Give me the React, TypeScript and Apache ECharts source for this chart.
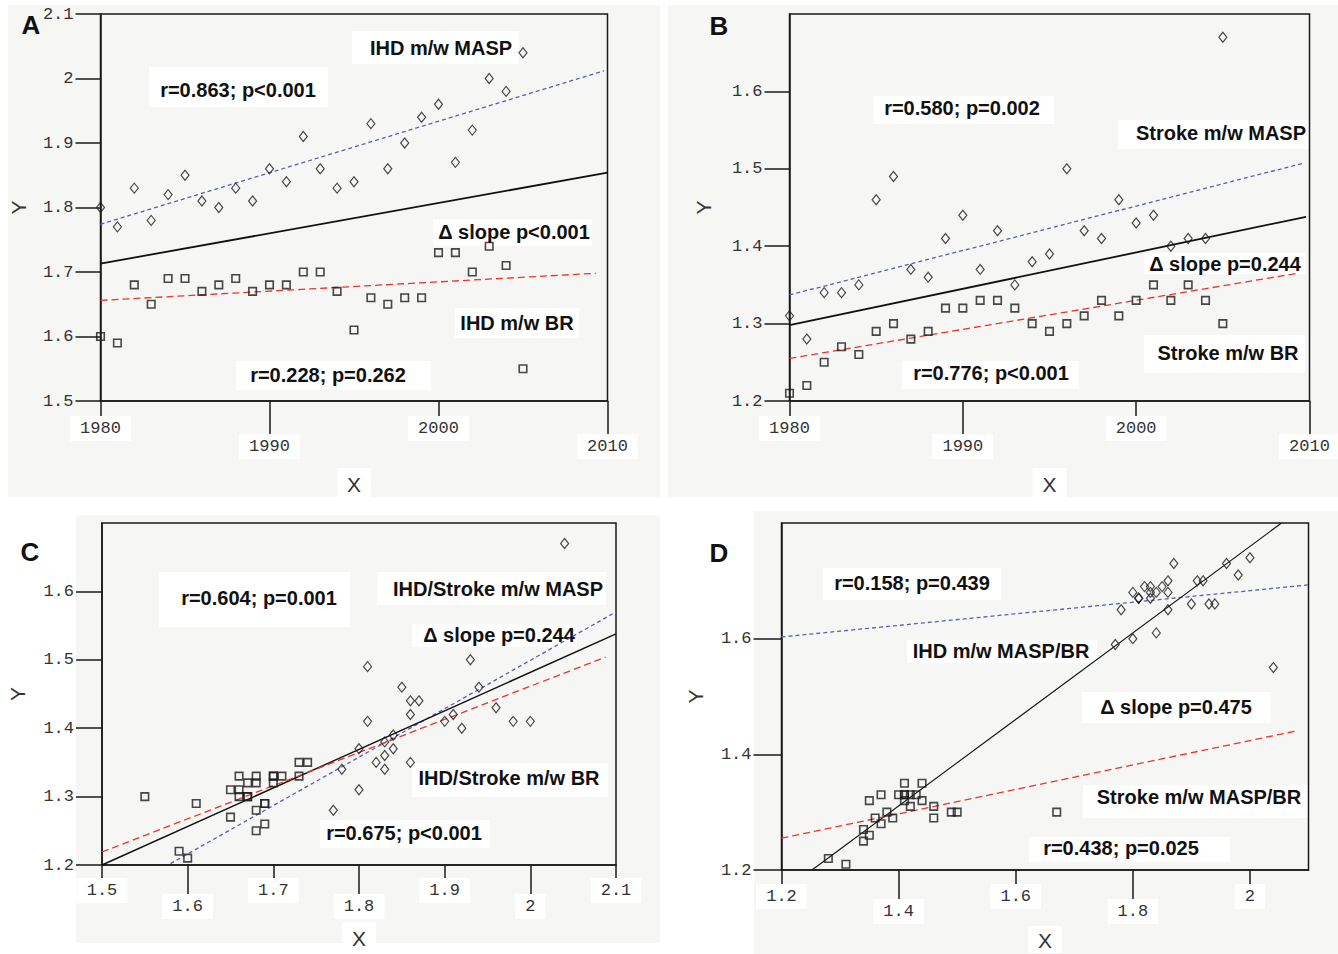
import { useEffect, useRef } from "react";
import * as echarts from "echarts";

// ---------------- DATA ----------------
const years = [1980, 1981, 1982, 1983, 1984, 1985, 1986, 1987, 1988, 1989, 1990, 1991, 1992, 1993, 1994, 1995, 1996, 1997, 1998, 1999, 2000, 2001, 2002, 2003, 2004, 2005];

const ihdMASP = [1.80, 1.77, 1.83, 1.78, 1.82, 1.85, 1.81, 1.80, 1.83, 1.81, 1.86, 1.84, 1.91, 1.86, 1.83, 1.84, 1.93, 1.86, 1.90, 1.94, 1.96, 1.87, 1.92, 2.00, 1.98, 2.04];
const ihdBR = [1.60, 1.59, 1.68, 1.65, 1.69, 1.69, 1.67, 1.68, 1.69, 1.67, 1.68, 1.68, 1.70, 1.70, 1.67, 1.61, 1.66, 1.65, 1.66, 1.66, 1.73, 1.73, 1.70, 1.74, 1.71, 1.55];
const strokeMASP = [1.31, 1.28, 1.34, 1.34, 1.35, 1.46, 1.49, 1.37, 1.36, 1.41, 1.44, 1.37, 1.42, 1.35, 1.38, 1.39, 1.50, 1.42, 1.41, 1.46, 1.43, 1.44, 1.40, 1.41, 1.41, 1.67];
const strokeBR = [1.21, 1.22, 1.25, 1.27, 1.26, 1.29, 1.30, 1.28, 1.29, 1.32, 1.32, 1.33, 1.33, 1.32, 1.30, 1.29, 1.30, 1.31, 1.33, 1.31, 1.33, 1.35, 1.33, 1.35, 1.33, 1.30];

// fitted regression lines (end points)
const fitA_MASP = [[1980, 1.774], [2009.8, 2.012]];
const fitA_Pooled = [[1980, 1.713], [2010, 1.854]];
const fitA_BR = [[1980, 1.656], [2009.3, 1.698]];
const fitB_MASP = [[1980, 1.337], [2009.6, 1.507]];
const fitB_Pooled = [[1980, 1.298], [2009.8, 1.438]];
const fitB_BR = [[1980, 1.255], [2009.3, 1.365]];
const fitC_MASP = [[1.58, 1.202], [2.1, 1.57]];
const fitC_Pooled = [[1.5, 1.2], [2.1, 1.538]];
const fitC_BR = [[1.5, 1.219], [2.088, 1.504]];
const fitD_IHD = [[1.2, 1.603], [2.1, 1.693]];
const fitD_Pooled = [[1.252, 1.2], [2.054, 1.8]];
const fitD_Stroke = [[1.2, 1.255], [2.077, 1.44]];

// tick values
const xTicksYearShort = [1980, 2000];
const xTicksYearLong = [1990, 2010];
const yTicksA = [1.5, 1.6, 1.7, 1.8, 1.9, 2.0, 2.1];
const yTicksB = [1.2, 1.3, 1.4, 1.5, 1.6];
const xTicksCShort = [1.5, 1.7, 1.9, 2.1];
const xTicksCLong = [1.6, 1.8, 2.0];
const yTicksC = [1.2, 1.3, 1.4, 1.5, 1.6];
const xTicksDShort = [1.2, 1.6, 2.0];
const xTicksDLong = [1.4, 1.8];
const yTicksD = [1.2, 1.4, 1.6];

// annotation texts
const textsA = ["IHD m/w MASP", "r=0.863; p<0.001", "Δ slope p<0.001", "IHD m/w BR", "r=0.228; p=0.262"];
const textsB = ["r=0.580; p=0.002", "Stroke m/w MASP", "Δ slope p=0.244", "Stroke m/w BR", "r=0.776; p<0.001"];
const textsC = ["r=0.604; p=0.001", "IHD/Stroke m/w MASP", "Δ slope p=0.244", "IHD/Stroke m/w BR", "r=0.675; p<0.001"];
const textsD = ["r=0.158; p=0.439", "IHD m/w MASP/BR", "Δ slope p=0.475", "Stroke m/w MASP/BR", "r=0.438; p=0.025"];
const panelLetters = ["A", "B", "C", "D"];

const zip = (xs: number[], ys: number[]) => xs.map((x, i) => [x, ys[i]]);

// ---------------- LAYOUT ----------------
const layout = [
  {
    grid: { left: 100.5, top: 14, width: 507, height: 387 },
    xMin: 1980, xMax: 2010, yMin: 1.5, yMax: 2.1,
    xShort: xTicksYearShort, xLong: xTicksYearLong, yTicks: yTicksA,
    shortLen: 20, longLen: 36, shortMargin: 15, longMargin: 33, yTickLen: 25, yLabelMargin: 27,
    xNameGap: 67, yNameGap: 72, xNamePad: [6, 10, 6, 10],
    bg: [8, 5, 660, 497],
    letter: [31, 25],
    boxes: [
      { c: [441, 48], b: [352, 31, 519, 64] },
      { c: [238, 90], b: [149, 67, 328, 107] },
      { c: [514, 232], b: [433, 219, 592, 246] },
      { c: [517, 323], b: [455, 308, 579, 338] },
      { c: [328, 375], b: [236, 361, 431, 390] },
    ],
  },
  {
    grid: { left: 789.5, top: 14, width: 520, height: 387 },
    xMin: 1980, xMax: 2010, yMin: 1.2, yMax: 1.7,
    xShort: xTicksYearShort, xLong: xTicksYearLong, yTicks: yTicksB,
    shortLen: 20, longLen: 36, shortMargin: 15, longMargin: 33, yTickLen: 25, yLabelMargin: 27,
    xNameGap: 67, yNameGap: 76, xNamePad: [6, 10, 6, 10],
    bg: [668, 5, 1338, 497],
    letter: [719, 26],
    boxes: [
      { c: [962, 108], b: [873, 96, 1054, 124] },
      { c: [1221, 133], b: [1118, 120, 1310, 149] },
      { c: [1225, 264], b: [1144, 253, 1305, 274] },
      { c: [1228, 353], b: [1144, 335, 1305, 373] },
      { c: [991, 373], b: [902, 361, 1079, 389] },
    ],
  },
  {
    grid: { left: 102, top: 523, width: 514, height: 342 },
    xMin: 1.5, xMax: 2.1, yMin: 1.2, yMax: 1.7,
    xShort: xTicksCShort, xLong: xTicksCLong, yTicks: yTicksC,
    shortLen: 18, longLen: 33, shortMargin: 13, longMargin: 29, yTickLen: 26, yLabelMargin: 28,
    xNameGap: 57, yNameGap: 74, xNamePad: [6, 10, 4, 10],
    bg: [76, 515, 660, 943],
    letter: [30, 552],
    boxes: [
      { c: [259, 598], b: [159, 572, 350, 627] },
      { c: [498, 589], b: [377, 572, 606, 605] },
      { c: [499, 635], b: [412, 624, 577, 647] },
      { c: [509, 778], b: [412, 763, 608, 797] },
      { c: [404, 833], b: [320, 820, 490, 848] },
    ],
  },
  {
    grid: { left: 781.5, top: 523, width: 527, height: 347 },
    xMin: 1.2, xMax: 2.1, yMin: 1.2, yMax: 1.8,
    xShort: xTicksDShort, xLong: xTicksDLong, yTicks: yTicksD,
    shortLen: 18, longLen: 33, shortMargin: 14, longMargin: 29, yTickLen: 28, yLabelMargin: 30,
    xNameGap: 56, yNameGap: 76, xNamePad: [4, 10, 2, 10],
    bg: [754, 511, 1338, 954],
    letter: [719, 553],
    boxes: [
      { c: [912, 583], b: [823, 568, 1001, 600] },
      { c: [1001, 651], b: [907, 640, 1097, 663] },
      { c: [1176, 707], b: [1082, 692, 1271, 723] },
      { c: [1199, 797], b: [1083, 785, 1308, 818] },
      { c: [1121, 848], b: [1029, 837, 1230, 862] },
    ],
  },
];

const panelTexts = [textsA, textsB, textsC, textsD];

const fmt = (v: number) => String(parseFloat(Number(v).toFixed(2)));

const tickFont = { fontFamily: "Liberation Mono", fontSize: 17, color: "#333" };
const annotFont = 'bold 20px "Liberation Sans", Arial, sans-serif';
const BG = "#f6f6f5";
const INK = "#1a1a1a";

function buildOption() {
  const grids: any[] = [];
  const xAxes: any[] = [];
  const yAxes: any[] = [];
  const series: any[] = [];
  const graphics: any[] = [];

  const panelData = [
    {
      masp: zip(years, ihdMASP), br: zip(years, ihdBR),
      fits: [fitA_MASP, fitA_Pooled, fitA_BR],
    },
    {
      masp: zip(years, strokeMASP), br: zip(years, strokeBR),
      fits: [fitB_MASP, fitB_Pooled, fitB_BR],
    },
    {
      masp: zip(ihdMASP, strokeMASP), br: zip(ihdBR, strokeBR),
      fits: [fitC_MASP, fitC_Pooled, fitC_BR],
    },
    {
      masp: zip(ihdMASP, ihdBR), br: zip(strokeMASP, strokeBR),
      fits: [fitD_IHD, fitD_Pooled, fitD_Stroke],
    },
  ];

  layout.forEach((L, p) => {
    grids.push({
      ...L.grid,
      show: true,
      containLabel: false,
      outerBoundsMode: "none",
      backgroundColor: "transparent",
      borderColor: INK,
      borderWidth: 1.5,
      z: 1,
    });
    xAxes.push({
      type: "value",
      gridIndex: p,
      min: L.xMin,
      max: L.xMax,
      position: "bottom",
      splitLine: { show: false },
      axisLine: { show: true, onZero: false, lineStyle: { color: INK, width: 1.5 } },
      axisTick: { show: true, customValues: L.xShort, length: L.shortLen, lineStyle: { color: INK, width: 1.5 } },
      axisLabel: {
        customValues: L.xShort,
        margin: L.shortMargin,
        formatter: (v: number) => fmt(v),
        ...tickFont,
        backgroundColor: "#fff",
        padding: [4, 10, 4, 10],
      },
      name: "X",
      nameLocation: "middle",
      nameGap: L.xNameGap,
      nameTextStyle: {
        fontFamily: "Liberation Sans",
        fontSize: 21,
        color: "#333",
        backgroundColor: "#fff",
        padding: L.xNamePad,
      },
    });
    xAxes.push({
      type: "value",
      gridIndex: p,
      min: L.xMin,
      max: L.xMax,
      position: "bottom",
      splitLine: { show: false },
      axisLine: { show: false },
      axisTick: { show: true, customValues: L.xLong, length: L.longLen, lineStyle: { color: INK, width: 1.5 } },
      axisLabel: {
        customValues: L.xLong,
        margin: L.longMargin,
        formatter: (v: number) => fmt(v),
        ...tickFont,
        backgroundColor: "#fff",
        padding: [4, 10, 4, 10],
      },
    });
    yAxes.push({
      type: "value",
      gridIndex: p,
      min: L.yMin,
      max: L.yMax,
      splitLine: { show: false },
      axisLine: { show: true, onZero: false, lineStyle: { color: INK, width: 1.5 } },
      axisTick: { show: true, customValues: L.yTicks, length: L.yTickLen, lineStyle: { color: INK, width: 1.5 } },
      axisLabel: {
        customValues: L.yTicks,
        margin: L.yLabelMargin,
        formatter: (v: number) => fmt(v),
        ...tickFont,
      },
      name: "Y",
      nameLocation: "middle",
      nameGap: L.yNameGap,
      nameRotate: 90,
      nameTextStyle: { fontFamily: "Liberation Sans", fontSize: 21, color: "#333" },
    });

    const D = panelData[p];
    const xi = p * 2;
    series.push({
      type: "scatter",
      name: "MASP " + panelLetters[p],
      xAxisIndex: xi,
      yAxisIndex: p,
      data: D.masp,
      symbol: "diamond",
      symbolSize: [8, 10],
      itemStyle: { color: "rgba(0,0,0,0)", borderColor: INK, borderWidth: 1.2 },
      z: 4,
      silent: true,
    });
    series.push({
      type: "scatter",
      name: "BR " + panelLetters[p],
      xAxisIndex: xi,
      yAxisIndex: p,
      data: D.br,
      symbol: "rect",
      symbolSize: 7.5,
      itemStyle: { color: "rgba(0,0,0,0)", borderColor: INK, borderWidth: 1.6 },
      z: 4,
      silent: true,
    });
    const lineStyles = [
      { color: "#5a5fb0", width: 1.3, type: [4, 3] },
      { color: "#111", width: p === 3 ? 1.1 : p === 2 ? 1.4 : 1.8, type: "solid" },
      { color: "#e8352a", width: 1.3, type: [7, 4] },
    ];
    D.fits.forEach((f, k) => {
      series.push({
        type: "line",
        xAxisIndex: xi,
        yAxisIndex: p,
        data: f,
        showSymbol: false,
        symbol: "none",
        lineStyle: lineStyles[k],
        z: 3,
        silent: true,
      });
    });

    // graphics: background, annotation boxes, texts, letter
    const [bx0, by0, bx1, by1] = L.bg;
    graphics.push({
      type: "rect",
      shape: { x: bx0, y: by0, width: bx1 - bx0, height: by1 - by0 },
      style: { fill: BG },
      z: -3,
      silent: true,
    });
    L.boxes.forEach((bx, k) => {
      const [x0, y0, x1, y1] = bx.b;
      graphics.push({
        type: "rect",
        shape: { x: x0, y: y0, width: x1 - x0, height: y1 - y0 },
        style: { fill: "#fff" },
        z: -2,
        silent: true,
      });
      graphics.push({
        type: "text",
        x: bx.c[0],
        y: bx.c[1],
        style: {
          text: panelTexts[p][k],
          font: annotFont,
          fill: "#111",
          align: "center",
          verticalAlign: "middle",
        },
        z: -1,
        silent: true,
      });
    });
    graphics.push({
      type: "text",
      x: L.letter[0],
      y: L.letter[1],
      style: {
        text: panelLetters[p],
        font: 'bold 26px "Liberation Sans", Arial, sans-serif',
        fill: "#111",
        align: "center",
        verticalAlign: "middle",
      },
      z: -1,
      silent: true,
    });
  });

  return {
    animation: false,
    backgroundColor: "#fff",
    grid: grids,
    xAxis: xAxes,
    yAxis: yAxes,
    series,
    graphic: { elements: graphics },
  };
}

export default function App() {
  const ref = useRef<HTMLDivElement>(null);
  useEffect(() => {
    if (!ref.current) return;
    const chart = echarts.init(ref.current, null, { renderer: "svg" });
    chart.setOption(buildOption() as any);
    return () => chart.dispose();
  }, []);
  return (
    <div
      ref={ref}
      style={{ position: "absolute", left: 0, top: 0, width: 1338, height: 954, background: "#fff" }}
    />
  );
}
